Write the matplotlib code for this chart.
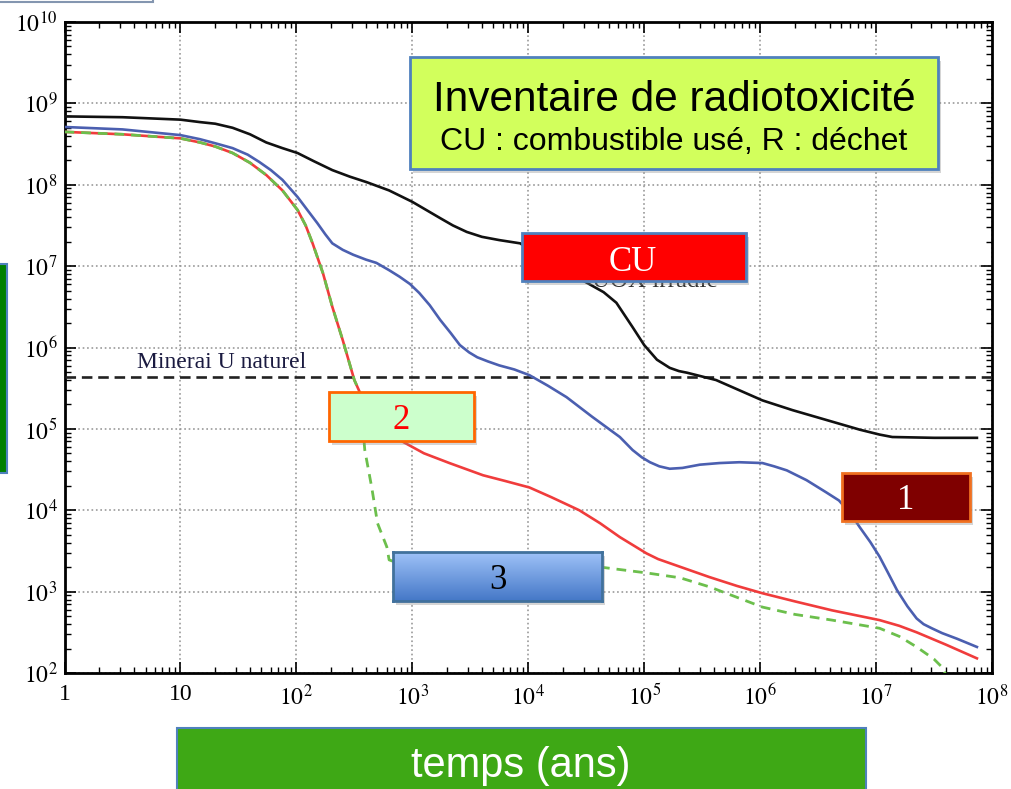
import numpy as np
import matplotlib
matplotlib.use('Agg')
import matplotlib.pyplot as plt
from matplotlib.patches import Rectangle
from matplotlib.ticker import LogLocator, NullFormatter

plt.rcParams['font.family'] = ['Liberation Serif', 'DejaVu Serif']
plt.rcParams['mathtext.fontset'] = 'stix'

# courbes : log10(temps en ans), log10(radiotoxicite)
cu_logt = [0, 0.5, 1.0, 1.168, 1.3, 1.45, 1.6, 1.74, 1.88, 2.01, 2.15, 2.31, 2.46, 2.61, 2.8,
           3.0, 3.12, 3.24, 3.35, 3.47, 3.6, 3.75, 3.93, 4.2, 4.5, 4.65, 4.76, 4.90, 5.0,
           5.11, 5.22, 5.3, 5.37, 5.62, 6.02, 6.28, 6.57, 6.86, 7.03, 7.14, 7.5, 7.87]
cu_logv = [8.84, 8.83, 8.80, 8.77, 8.75, 8.70, 8.62, 8.52, 8.45, 8.39, 8.29, 8.18, 8.10, 8.03, 7.93,
           7.79, 7.69, 7.59, 7.50, 7.42, 7.36, 7.32, 7.28, 7.04, 6.80, 6.68, 6.55, 6.25, 6.03,
           5.85, 5.75, 5.71, 5.69, 5.60, 5.35, 5.23, 5.11, 4.99, 4.93, 4.90, 4.89, 4.89]

r1_logt = [0, 0.5, 1.0, 1.168, 1.3, 1.45, 1.58, 1.68, 1.78, 1.88, 2.01, 2.1, 2.18, 2.25, 2.31,
           2.4, 2.49, 2.6, 2.69, 2.8, 2.89, 2.98, 3.06, 3.15, 3.24, 3.33, 3.41, 3.49, 3.56,
           3.65, 3.75, 3.88, 4.01, 4.17, 4.33, 4.55, 4.79, 4.90, 4.98, 5.05, 5.13, 5.22, 5.33,
           5.48, 5.65, 5.82, 6.02, 6.12, 6.23, 6.40, 6.57, 6.68, 6.78, 6.86, 6.95, 7.03, 7.1,
           7.18, 7.27, 7.35, 7.41, 7.48, 7.57, 7.7, 7.87]
r1_logv = [8.71, 8.68, 8.61, 8.56, 8.51, 8.45, 8.37, 8.28, 8.18, 8.06, 7.85, 7.68, 7.53, 7.39, 7.28,
           7.20, 7.14, 7.08, 7.04, 6.95, 6.87, 6.78, 6.67, 6.52, 6.34, 6.18, 6.03, 5.94, 5.88,
           5.83, 5.78, 5.73, 5.66, 5.53, 5.39, 5.15, 4.90, 4.74, 4.65, 4.59, 4.54, 4.51, 4.52,
           4.56, 4.58, 4.59, 4.58, 4.54, 4.49, 4.37, 4.22, 4.12, 3.96, 3.79, 3.61, 3.43, 3.24,
           3.02, 2.82, 2.67, 2.60, 2.55, 2.49, 2.42, 2.32]

r2_logt = [0, 0.5, 1.0, 1.168, 1.3, 1.45, 1.6, 1.74, 1.88, 2.01, 2.08, 2.14, 2.23, 2.31, 2.40,
           2.50, 2.55, 2.65, 2.78, 2.92, 3.1, 3.32, 3.61, 3.8, 4.01, 4.2, 4.44, 4.62, 4.79,
           5.02, 5.12, 5.22, 5.38, 5.56, 5.8, 6.02, 6.3, 6.62, 7.03, 7.2, 7.35, 7.6, 7.87]
r2_logv = [8.65, 8.62, 8.57, 8.52, 8.47, 8.39, 8.27, 8.12, 7.93, 7.69, 7.50, 7.28, 6.91, 6.50, 6.09,
           5.60, 5.44, 5.20, 4.98, 4.84, 4.70, 4.58, 4.43, 4.36, 4.28, 4.16, 4.00, 3.84, 3.67,
           3.47, 3.40, 3.35, 3.27, 3.18, 3.07, 2.98, 2.88, 2.77, 2.65, 2.58, 2.50, 2.35, 2.18]

r3_logt = [0, 0.5, 1.0, 1.168, 1.3, 1.45, 1.6, 1.74, 1.88, 2.01, 2.08, 2.14, 2.23, 2.31, 2.40,
           2.50, 2.55, 2.59, 2.65, 2.70, 2.78, 2.80, 2.9, 3.5, 4.0, 4.63, 5.02, 5.31, 5.56,
           5.8, 6.02, 6.3, 6.62, 7.03, 7.2, 7.35, 7.5, 7.57, 7.63]
r3_logv = [8.65, 8.62, 8.57, 8.52, 8.47, 8.39, 8.27, 8.12, 7.93, 7.69, 7.50, 7.28, 6.91, 6.50, 6.09,
           5.60, 5.44, 4.74, 4.28, 3.84, 3.55, 3.39, 3.34, 3.32, 3.32, 3.30, 3.23, 3.17, 3.06,
           2.93, 2.81, 2.72, 2.65, 2.55, 2.45, 2.32, 2.17, 2.07, 1.90]

minerai = 4.3e5

xtick_vals = [1, 1e1, 1e2, 1e3, 1e4, 1e5, 1e6, 1e7, 1e8]
xtick_labels = ['1', '10', r'$10^2$', r'$10^3$', r'$10^4$', r'$10^5$', r'$10^6$', r'$10^7$', r'$10^8$']
ytick_vals = [1e2, 1e3, 1e4, 1e5, 1e6, 1e7, 1e8, 1e9, 1e10]
ytick_labels = [r'$10^{2}$', r'$10^{3}$', r'$10^{4}$', r'$10^{5}$', r'$10^{6}$',
                r'$10^{7}$', r'$10^{8}$', r'$10^{9}$', r'$10^{10}$']

W, H = 1012, 789

def fx(px):
    return px / W

def fy(py):
    return 1 - py / H

def box(x0, y0, x1, y1, face, edge, lw=2, shadow=True, z=10):
    if shadow:
        fig.add_artist(Rectangle((fx(x0 + 3), fy(y1 + 4)), fx(x1 - x0), (y1 - y0) / H,
                                 transform=fig.transFigure, facecolor='#888888',
                                 edgecolor='none', alpha=0.35, zorder=z - 1))
    fig.add_artist(Rectangle((fx(x0), fy(y1)), fx(x1 - x0), (y1 - y0) / H,
                             transform=fig.transFigure, facecolor=face,
                             edgecolor=edge, lw=lw, zorder=z))

def label(px, py, s, color, size, family='Liberation Serif', z=11):
    fig.text(fx(px), fy(py), s, color=color, fontsize=size, family=family,
             ha='center', va='baseline', zorder=z)


fig = plt.figure(figsize=(W / 100, H / 100), dpi=100)
ax = fig.add_axes([fx(64.5), fy(673), fx(992) - fx(64.5), fy(22) - fy(673)])
ax.set_xscale('log')
ax.set_yscale('log')

ax.plot(10 ** np.array(cu_logt), 10 ** np.array(cu_logv), color='#111111', lw=1.9, zorder=4)
ax.plot(10 ** np.array(r1_logt), 10 ** np.array(r1_logv), color='#4b5fb0', lw=1.9, zorder=4)
ax.plot(10 ** np.array(r2_logt), 10 ** np.array(r2_logv), color='#f03c3c', lw=1.9, zorder=4)
ax.plot(10 ** np.array(r3_logt), 10 ** np.array(r3_logv), color='#6cbf4c', lw=2.0,
        ls=(0, (3.5, 2.5)), zorder=5)
ax.axhline(minerai, color='#222222', lw=1.9, ls=(0, (4, 2.2)), zorder=3)
ax.text(10 ** 0.625, 10 ** 5.82, 'Minerai U naturel', fontsize=17, color='#1a1a40',
        va='center', ha='left', zorder=3)
ax.text(10 ** ((592 - 64.5) / 116), 10 ** (2 + (673 - 287) / 81.4), 'UOX irradié',
        fontsize=18, color='#333333', va='baseline', ha='left', zorder=3)

ax.set_xlim(1, 1e8)
ax.set_ylim(1e2, 1e10)
ax.set_xticks(xtick_vals)
ax.set_xticklabels(xtick_labels)
ax.set_yticks(ytick_vals)
ax.set_yticklabels(ytick_labels)
ax.xaxis.set_minor_locator(LogLocator(base=10, subs=np.arange(2, 10), numticks=100))
ax.yaxis.set_minor_locator(LogLocator(base=10, subs=np.arange(2, 10), numticks=100))
ax.xaxis.set_minor_formatter(NullFormatter())
ax.yaxis.set_minor_formatter(NullFormatter())
ax.tick_params(which='major', direction='in', length=8, width=1.2, top=True, right=True,
               labelsize=17, pad=8)
ax.tick_params(which='minor', direction='in', length=4, width=1, top=True, right=True)
ax.tick_params(axis='y', pad=5)
ax.grid(True, which='major', ls=':', color='#999999', lw=1.2)
for s in ax.spines.values():
    s.set_linewidth(2)

# cadres et etiquettes
box(-2, -20, 153, 2, 'white', '#8496b0', lw=1.5, shadow=False)
box(-3, 264, 7, 473, '#008000', '#4f81bd', lw=1.5, shadow=False)

box(410, 57, 938, 169, '#d2ff5c', '#4f81bd', lw=2)
label(674, 111, 'Inventaire de radiotoxicité', 'black', 30.5, family='Liberation Sans')
label(674, 150, 'CU : combustible usé, R : déchet', 'black', 23, family='Liberation Sans')

box(522, 233, 746, 281, '#ff0000', '#4f81bd')
label(633, 271, 'CU', 'white', 25)

box(329, 392, 474, 441, '#ccffcc', '#ff6600')
label(401, 429, '2', '#ff0000', 25)

# boite 3 avec degrade
fig.add_artist(Rectangle((fx(396), fy(605)), fx(209), 49 / H, transform=fig.transFigure,
                         facecolor='#888888', edgecolor='none', alpha=0.35, zorder=9))
gax = fig.add_axes([fx(393), fy(601), fx(209), 49 / H], zorder=10)
grad = np.linspace(0, 1, 64).reshape(-1, 1)
top = np.array([0.62, 0.76, 0.97])
bot = np.array([0.27, 0.47, 0.78])
img = top[None, None, :] * (1 - grad[:, :, None]) + bot[None, None, :] * grad[:, :, None]
gax.imshow(img, aspect='auto', extent=(0, 1, 0, 1))
gax.set_xticks([])
gax.set_yticks([])
for s in gax.spines.values():
    s.set_color('#41719c')
    s.set_linewidth(2)
gax.text(0.5, (601 - 589) / 49, '3', color='black', fontsize=25, ha='center',
         va='baseline', transform=gax.transAxes)

box(842, 473, 970, 521, '#7f0000', '#f07020')
label(906, 509, '1', 'white', 25)

box(177, 728, 866, 800, '#3ea815', '#4f81bd', lw=1.5, shadow=False)
label(521, 777, 'temps (ans)', 'white', 30, family='Liberation Sans')

fig.savefig('out.png', dpi=100)
